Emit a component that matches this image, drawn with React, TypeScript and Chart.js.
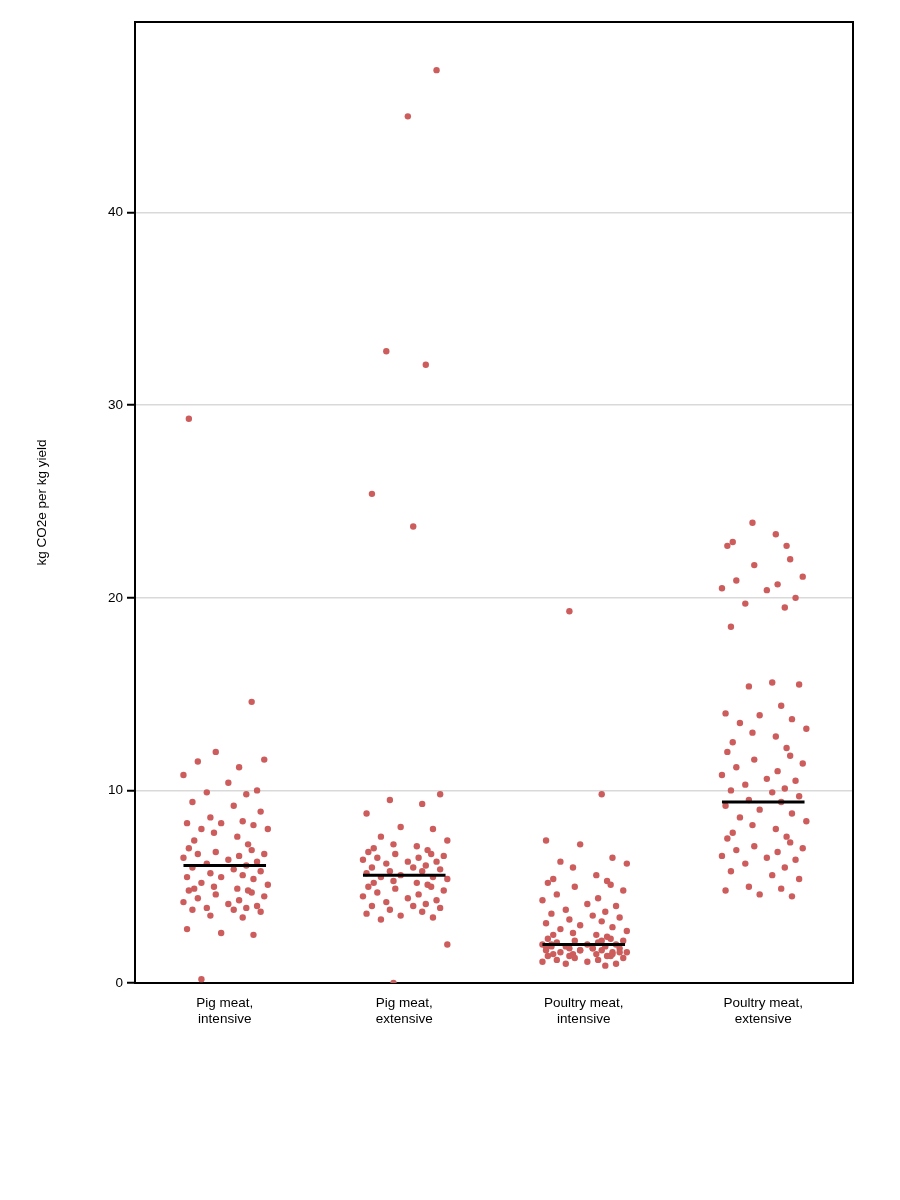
import { useEffect, useRef } from "react"
import { Chart, registerables } from "chart.js"

Chart.register(...registerables)

const categories = [
  ["Pig meat,", "intensive"],
  ["Pig meat,", "extensive"],
  ["Poultry meat,", "intensive"],
  ["Poultry meat,", "extensive"],
]

const pigIntensive = [29.3, 14.6, 12.0, 11.6, 11.5, 11.2, 10.8, 10.4, 10.0, 9.9, 9.8, 9.4, 9.2, 8.9, 8.6, 8.4, 8.3, 8.3, 8.2, 8.0, 8.0, 7.8, 7.6, 7.4, 7.2, 7.0, 6.9, 6.8, 6.7, 6.7, 6.6, 6.5, 6.4, 6.3, 6.2, 6.1, 6.0, 5.9, 5.8, 5.7, 5.6, 5.5, 5.5, 5.4, 5.2, 5.1, 5.0, 4.9, 4.9, 4.8, 4.8, 4.7, 4.6, 4.5, 4.4, 4.3, 4.2, 4.1, 4.0, 3.9, 3.9, 3.8, 3.8, 3.7, 3.5, 3.4, 2.8, 2.6, 2.5, 0.2]
const pigExtensive = [45.0, 47.4, 32.8, 32.1, 25.4, 23.7, 9.8, 9.5, 9.3, 8.8, 8.1, 8.0, 7.6, 7.4, 7.2, 7.1, 7.0, 6.9, 6.8, 6.7, 6.7, 6.6, 6.5, 6.5, 6.4, 6.3, 6.3, 6.2, 6.1, 6.0, 6.0, 5.9, 5.8, 5.8, 5.7, 5.6, 5.5, 5.5, 5.4, 5.3, 5.2, 5.2, 5.1, 5.0, 5.0, 4.9, 4.8, 4.7, 4.6, 4.5, 4.4, 4.3, 4.2, 4.1, 4.0, 4.0, 3.9, 3.8, 3.7, 3.6, 3.5, 3.4, 3.3, 2.0, 0.0]
const poultryIntensive = [19.3, 9.8, 7.4, 7.2, 6.5, 6.3, 6.2, 6.0, 5.6, 5.4, 5.3, 5.2, 5.1, 5.0, 4.8, 4.6, 4.4, 4.3, 4.1, 4.0, 3.8, 3.7, 3.6, 3.5, 3.4, 3.3, 3.2, 3.1, 3.0, 2.9, 2.8, 2.7, 2.6, 2.5, 2.5, 2.4, 2.3, 2.3, 2.2, 2.2, 2.1, 2.1, 2.0, 2.0, 2.0, 1.9, 1.9, 1.9, 1.8, 1.8, 1.8, 1.7, 1.7, 1.7, 1.6, 1.6, 1.6, 1.5, 1.5, 1.5, 1.4, 1.4, 1.4, 1.3, 1.3, 1.2, 1.2, 1.1, 1.1, 1.0, 1.0, 0.9, 2.0, 1.8, 1.6, 1.4, 2.2, 1.9, 1.7, 1.5]
const poultryExtensive = [23.9, 23.3, 22.9, 22.7, 22.7, 22.0, 21.7, 21.1, 20.9, 20.7, 20.5, 20.4, 20.0, 19.7, 19.5, 18.5, 15.6, 15.5, 15.4, 14.4, 14.0, 13.9, 13.7, 13.5, 13.2, 13.0, 12.8, 12.5, 12.2, 12.0, 11.8, 11.6, 11.4, 11.2, 11.0, 10.8, 10.6, 10.5, 10.3, 10.1, 10.0, 9.9, 9.7, 9.5, 9.4, 9.2, 9.0, 8.8, 8.6, 8.4, 8.2, 8.0, 7.8, 7.6, 7.5, 7.3, 7.1, 7.0, 6.9, 6.8, 6.6, 6.5, 6.4, 6.2, 6.0, 5.8, 5.6, 5.4, 5.0, 4.9, 4.8, 4.6, 4.5]
const medians = [6.1, 5.6, 2.0, 9.4]
const yTicks = [0, 10, 20, 30, 40]

// fixed horizontal spread for the strip plot
const jitter = [-0.2, 0.15, -0.05, 0.22, -0.15, 0.08, -0.23, 0.02, 0.18, -0.1, 0.12, -0.18, 0.05, 0.2, -0.08, 0.1, -0.21, -0.02, 0.16, -0.13, 0.24, -0.06, 0.07, -0.17, 0.13]

const groups = [pigIntensive, pigExtensive, poultryIntensive, poultryExtensive]
const font = "'Liberation Sans', Arial, sans-serif"

export default function App() {
  const chartRef = useRef<HTMLCanvasElement>(null)
  const chartInstance = useRef<Chart | null>(null)

  useEffect(() => {
    document.body.style.margin = "0"
    if (!chartRef.current) return
    if (chartInstance.current) chartInstance.current.destroy()
    const ctx = chartRef.current.getContext("2d")
    if (!ctx) return

    const points = groups.map((vals, g) =>
      vals.map((y, i) => ({ x: g + jitter[(i + g * 7) % jitter.length], y }))
    )
    const medianSets = medians.map((m, g) => ({
      type: "line" as const,
      data: [{ x: g - 0.23, y: m }, { x: g + 0.23, y: m }],
      borderColor: "#000",
      borderWidth: 3,
      pointRadius: 0,
      order: 0,
    }))

    chartInstance.current = new Chart(ctx, {
      type: "scatter",
      data: {
        datasets: [
          {
            data: points.flat(),
            backgroundColor: "#cd5c5c",
            borderWidth: 0,
            pointRadius: 3.2,
            order: 1,
          },
          ...medianSets,
        ] as any,
      },
      options: {
        animation: false,
        responsive: false,
        layout: { padding: { top: 22, right: 47, left: 34, bottom: 0 } },
        plugins: { legend: { display: false }, tooltip: { enabled: false } },
        scales: {
          x: {
            type: "linear",
            min: -0.5,
            max: 3.5,
            afterBuildTicks: (s: any) => { s.ticks = [0, 1, 2, 3].map((v) => ({ value: v })) },
            afterFit: (s: any) => { s.height = 217 },
            grid: { display: false, drawTicks: true, tickLength: 6, tickColor: "#000" },
            border: { color: "#000", width: 2 },
            ticks: {
              color: "#000",
              padding: 6,
              font: { family: font, size: 13.5 },
              callback: (v: any) => categories[v as number],
            },
          },
          y: {
            min: 0,
            max: 49.9,
            afterBuildTicks: (s: any) => { s.ticks = yTicks.map((v) => ({ value: v })) },
            afterFit: (s: any) => { s.width = 101 },
            grid: {
              color: (c: any) => (c.tick && c.tick.value === 0 ? "rgba(0,0,0,0)" : "#d9d9d9"),
              lineWidth: 1.5,
              drawTicks: true,
              tickLength: 8,
              tickColor: "#000",
              tickWidth: 2,
            },
            border: { color: "#000", width: 2 },
            ticks: { color: "#000", padding: 4, font: { family: font, size: 13.5 } },
            title: {
              display: true,
              text: "kg CO2e per kg yield",
              color: "#000",
              padding: 0,
              font: { family: font, size: 13.5 },
            },
          },
          x2: {
            type: "linear", position: "top", display: true,
            grid: { display: false }, ticks: { display: false },
            border: { color: "#000", width: 2 },
            afterFit: (s: any) => { s.height = 0 },
          },
          y2: {
            type: "linear", position: "right", display: true,
            grid: { display: false }, ticks: { display: false },
            border: { color: "#000", width: 2 },
            afterFit: (s: any) => { s.width = 0 },
          },
        },
      } as any,
    })

    return () => {
      if (chartInstance.current) chartInstance.current.destroy()
    }
  }, [])

  return (
    <div style={{ width: 900, height: 1200, background: "#fff" }}>
      <canvas ref={chartRef} width={900} height={1200}></canvas>
    </div>
  )
}
